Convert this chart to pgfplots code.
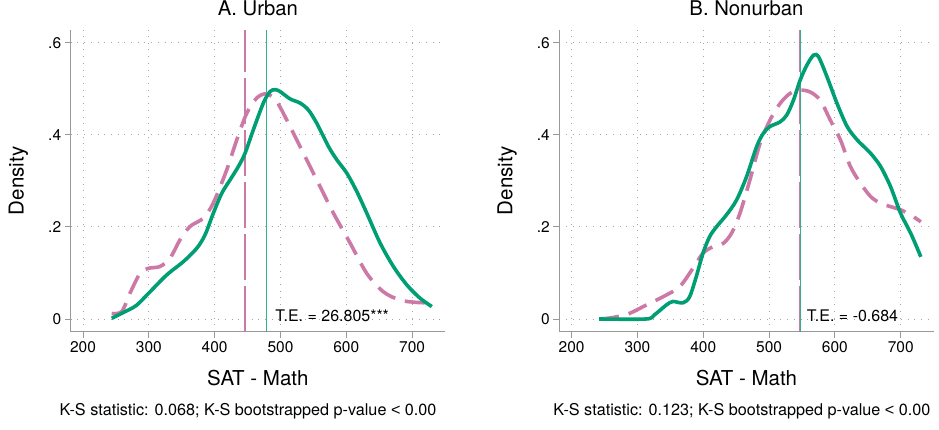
\documentclass[border=0pt]{standalone}
\usepackage{fontspec}
\setmainfont{TeX Gyre Heros}
\newfontfamily\lsans{Liberation Sans}
\usepackage{pgfplots}
\pgfplotsset{compat=1.18}
\definecolor{sgreen}{RGB}{0,158,115}
\definecolor{spink}{RGB}{204,121,167}
\newcommand{\fs}[1]{\fontsize{#1}{#1}\selectfont}
\pgfplotsset{stataax/.style={
  scale only axis, width=374.3pt, height=301.7pt,
  xmin=181.3, xmax=750, ymin=-0.0276, ymax=0.6276,
  axis x line*=bottom, axis y line*=left,
  axis line style={black!40, line width=0.9pt},
  tick align=outside, major tick length=6pt,
  tick style={black!40, line width=0.9pt},
  xtick={200,300,400,500,600,700},
  xticklabels={200,300,400,500,600,700},
  ytick={0,0.2,0.4,0.6}, yticklabels={0,.2,.4,.6},
  grid=major,
  major grid style={black!35, line width=0.8pt, dash pattern=on 0.8pt off 5.9pt},
  ticklabel style={font=\fs{15.5}},
  title style={at={(axis description cs:0.5,1)}, anchor=base, yshift=9pt, font=\fs{20.3}},
  xlabel style={at={(axis description cs:0.5,0)}, anchor=base, yshift=-53.3pt, font=\fs{20.5}},
  every axis y label/.style={at={(axis description cs:-0.1395,0.5)}, rotate=90, anchor=center, font=\fs{20.5}},
  clip=false,
}}
\begin{document}
\begin{tikzpicture}
\useasboundingbox (0pt,0pt) rectangle (939pt,429pt);
% ---------- Panel A ----------
\begin{axis}[stataax, at={(70.7pt,97.3pt)}, anchor=south west,
  title={A. Urban}, xlabel={SAT - Math}, ylabel={Density}]
\addplot[spink, line width=1.3pt, dash pattern=on 46pt off 6pt] coordinates {(446,-0.0276) (446,0.6276)};
\addplot[sgreen!80, line width=1.3pt] coordinates {(479,-0.0276) (479,0.6276)};
\addplot[spink, line width=3.6pt, smooth, tension=0.5, dash pattern=on 20pt off 10pt] coordinates {
(243.6,0.012) (258.8,0.016) (271.4,0.056) (286.6,0.099) (299.3,0.110) (317,0.114)
(332.2,0.132) (347.4,0.172) (362.6,0.201) (382.8,0.219) (398,0.252) (418.4,0.324)
(433.6,0.389) (448.8,0.447) (464,0.480) (479.2,0.489) (494.4,0.472) (514.6,0.418)
(534.8,0.360) (555.2,0.302) (580.4,0.230) (605.8,0.165) (631.1,0.099) (656.4,0.059)
(681.8,0.041) (707.1,0.036) (730,0.035)};
\addplot[sgreen, line width=3.6pt, smooth, tension=0.5] coordinates {
(243.6,0.0015) (268.9,0.0196) (281.6,0.030) (301.8,0.059) (327.2,0.0957) (352.5,0.1246)
(372.8,0.1536) (385.4,0.1826) (398,0.2297) (410.8,0.273) (423.4,0.302) (436,0.331)
(446.2,0.360) (458.8,0.411) (474,0.469) (484.2,0.494) (491.8,0.498) (499.4,0.494)
(514.6,0.478) (529.8,0.469) (542.4,0.454) (555.2,0.425) (572.8,0.375) (585.5,0.346)
(600.7,0.317) (615.9,0.277) (631.1,0.230) (651.4,0.165) (671.6,0.114) (692,0.074)
(712.2,0.045) (730,0.027)};
\node[anchor=base west, font=\fs{16}, inner sep=0pt] at (axis cs:492,-0.006) {T.E. = 26.805***};
\node[anchor=base, font=\fs{16.2}, inner sep=0pt] at (axis description cs:0.4737,-0.2778) {K-S statistic: 0.068; K-S bootstrapped p-value {\lsans <} 0.00};
\end{axis}
% ---------- Panel B ----------
\begin{axis}[stataax, at={(559.3pt,97.3pt)}, anchor=south west,
  title={B. Nonurban}, xlabel={SAT - Math}, ylabel={Density}]
\addplot[spink, line width=1.3pt, dash pattern=on 46pt off 6pt] coordinates {(546,-0.0276) (546,0.6276)};
\addplot[sgreen!80, line width=1.3pt] coordinates {(547.5,-0.0276) (547.5,0.6276)};
\addplot[spink, line width=3.6pt, smooth, tension=0.5, dash pattern=on 20pt off 10pt] coordinates {
(241.8,0) (262,0.003) (287.6,0.012) (313,0.030) (338.5,0.048) (364,0.070) (384.3,0.110)
(399.6,0.143) (414.9,0.157) (430.1,0.164) (442.9,0.186) (455.6,0.229) (470.9,0.302)
(486.2,0.381) (501.4,0.432) (516.7,0.468) (532,0.490) (547.3,0.497) (562.5,0.493)
(577.8,0.475) (593,0.432) (608.4,0.389) (623.6,0.331) (638.9,0.295) (654.2,0.266)
(669.5,0.251) (684.7,0.244) (700,0.237) (715.3,0.226) (730.6,0.211)};
\addplot[sgreen, line width=3.6pt, smooth, tension=0.5] coordinates {
(241.8,0) (313,0) (325.8,0.009) (343.6,0.030) (353.8,0.038) (369,0.035) (379.2,0.048)
(389.4,0.092) (399.6,0.143) (409.8,0.179) (420,0.200) (435.2,0.226) (450.5,0.258)
(465.8,0.309) (481,0.374) (491.2,0.403) (501.4,0.418) (516.7,0.428) (526.9,0.443)
(537,0.475) (547.3,0.519) (557.4,0.551) (567.6,0.573) (575.3,0.569) (588,0.526)
(603.3,0.468) (618.6,0.418) (633.8,0.389) (654.2,0.360) (669.5,0.331) (684.7,0.287)
(700,0.229) (715.3,0.186) (730.6,0.135)};
\node[anchor=base west, font=\fs{16}, inner sep=0pt] at (axis cs:557,-0.006) {T.E. = -0.684};
\node[anchor=base, font=\fs{16.2}, inner sep=0pt] at (axis description cs:0.488,-0.2778) {K-S statistic: 0.123; K-S bootstrapped p-value {\lsans <} 0.00};
\end{axis}
\end{tikzpicture}
\end{document}
